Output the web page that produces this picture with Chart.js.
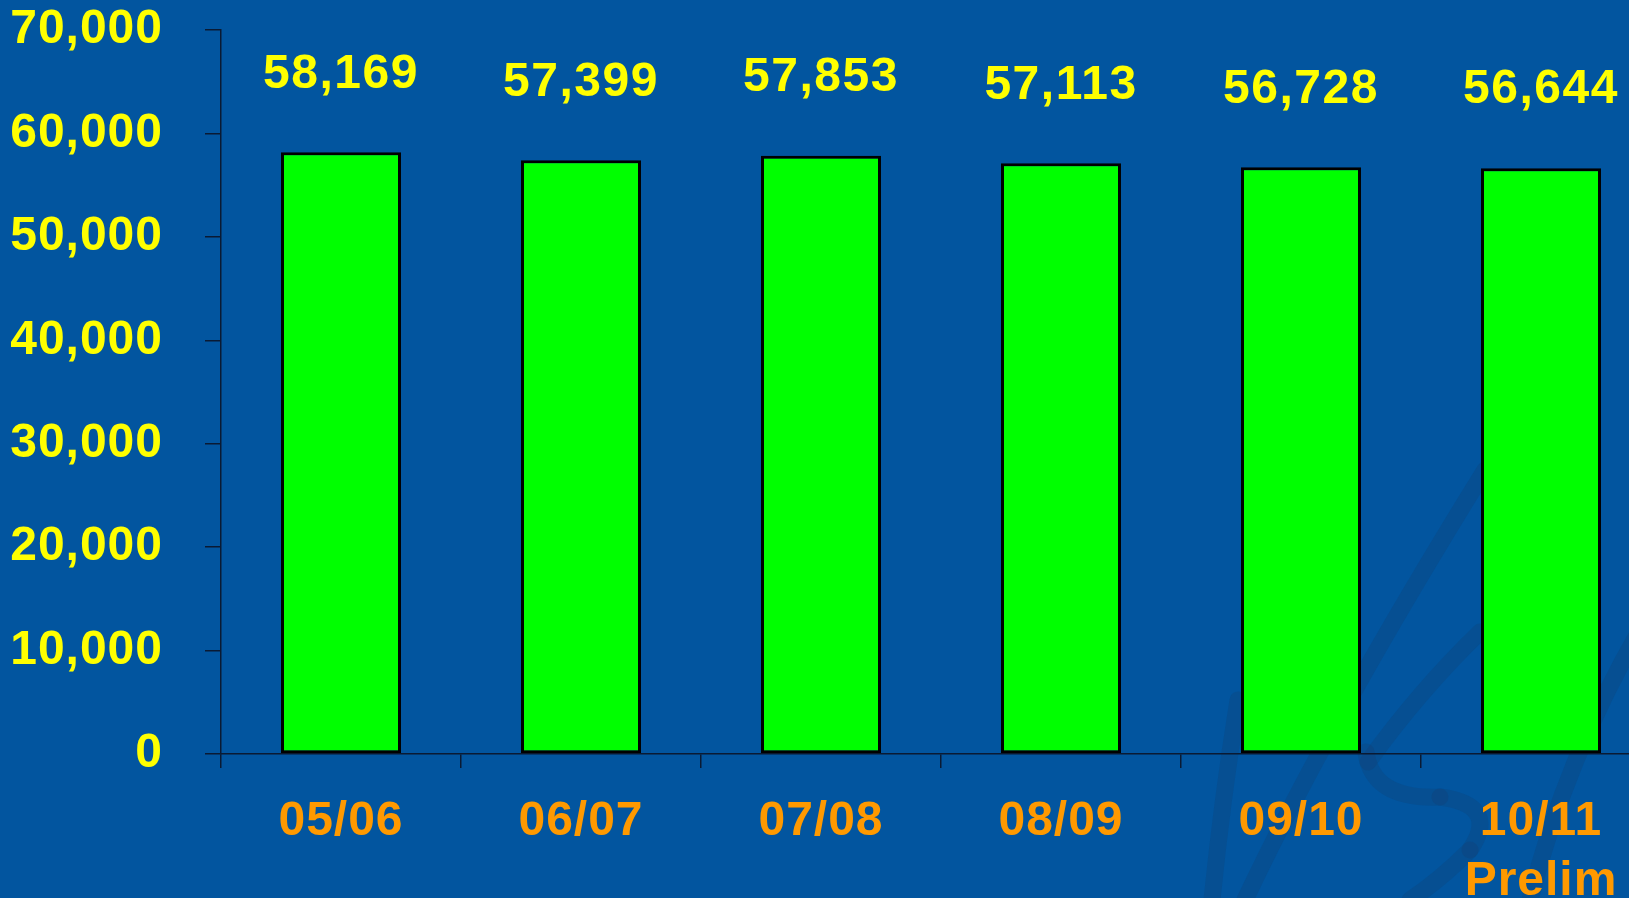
<!DOCTYPE html>
<html>
<head>
<meta charset="utf-8">
<script src="https://cdn.jsdelivr.net/npm/chart.js@4/dist/chart.umd.min.js"></script>
<style>
    html, body { margin: 0; padding: 0; background: #02559f; overflow: hidden; }
    #wrap { width: 1680px; height: 898px; position: relative; }
</style>
</head>
<body>
<div id="wrap"><canvas id="myChart"></canvas></div>
<script>
const categories = ["05/06", "06/07", "07/08", "08/09", "09/10", ["10/11", "Prelim"]];
const values = [58169, 57399, 57853, 57113, 56728, 56644];
const yTicks = [0, 10000, 20000, 30000, 40000, 50000, 60000, 70000];

const fontFamily = '"Liberation Sans", Arial, sans-serif';
const fmt = (v) => v.toLocaleString('en-US');

// a bit of extra letter spacing, the original font runs wider
const spacing = {
    id: 'spacing',
    beforeLayout(chart) { chart.ctx.letterSpacing = '1px'; },
    beforeDraw(chart) { chart.ctx.letterSpacing = '1px'; }
};

// faint scribble in the slide background, bottom right
const watermark = {
    id: 'watermark',
    beforeDraw(chart) {
        const ctx = chart.ctx;
        ctx.save();
        ctx.strokeStyle = 'rgba(25, 55, 95, 0.2)';
        ctx.lineWidth = 17;
        ctx.lineCap = 'round';
        ctx.lineJoin = 'round';
        const paths = [
            [[1238, 700], [1222, 800], [1212, 900]],
            [[1245, 900], [1330, 720], [1485, 470]],
            [[1368, 762], [1420, 690], [1480, 632]],
            [[1366, 752], [1372, 800], [1440, 797]],
            [[1440, 797], [1500, 805], [1470, 850]],
            [[1470, 850], [1440, 880], [1410, 900]],
            [[1530, 900], [1565, 760], [1640, 630]]
        ];
        paths.forEach(([a, c, b]) => {
            ctx.beginPath();
            ctx.moveTo(a[0], a[1]);
            ctx.quadraticCurveTo(c[0], c[1], b[0], b[1]);
            ctx.stroke();
        });
        ctx.restore();
    }
};

// draws the value above each bar
const valueLabels = {
    id: 'valueLabels',
    afterDatasetsDraw(chart) {
        const ctx = chart.ctx;
        const meta = chart.getDatasetMeta(0);
        ctx.save();
        ctx.letterSpacing = '1.5px';
        ctx.font = 'bold 48px ' + fontFamily;
        ctx.fillStyle = '#ffff00';
        ctx.textAlign = 'center';
        ctx.textBaseline = 'middle';
        meta.data.forEach((bar, i) => {
            ctx.fillText(fmt(values[i]), bar.x, bar.y - 78);
        });
        ctx.restore();
    }
};

document.addEventListener('DOMContentLoaded', () => {
    const ctx = document.getElementById('myChart').getContext('2d');
    new Chart(ctx, {
        type: 'bar',
        data: {
            labels: categories,
            datasets: [{
                data: [...values],
                backgroundColor: '#00ff00',
                borderColor: '#000000',
                borderWidth: 3,
                borderSkipped: false,
                barPercentage: 0.5,
                categoryPercentage: 1.0
            }]
        },
        options: {
            responsive: true,
            maintainAspectRatio: false,
            animation: false,
            events: [],
            scales: {
                y: {
                    min: 0,
                    max: 70000,
                    afterBuildTicks: (axis) => { axis.ticks = yTicks.map(v => ({ value: v })); },
                    afterFit: (axis) => {
                        axis.width = 221;
                        axis.paddingTop = 30;
                        axis.paddingBottom = 0;
                    },
                    grid: {
                        drawOnChartArea: false,
                        color: '#0a1a33',
                        tickLength: 16,
                        lineWidth: 1.5
                    },
                    border: { color: '#0a1a33', width: 1.5 },
                    ticks: {
                        padding: 42,
                        color: '#ffff00',
                        font: { family: fontFamily, size: 48, weight: 'bold' },
                        callback: (v) => fmt(v)
                    }
                },
                x: {
                    afterFit: (axis) => { axis.height = 144; },
                    grid: {
                        drawOnChartArea: false,
                        offset: true,
                        color: '#0a1a33',
                        tickLength: 14,
                        lineWidth: 1.5
                    },
                    border: { color: '#0a1a33', width: 1.5 },
                    ticks: {
                        padding: 24,
                        maxRotation: 0,
                        autoSkip: false,
                        color: '#ff9900',
                        font: { family: fontFamily, size: 48, weight: 'bold', lineHeight: 1.25 }
                    }
                }
            },
            plugins: {
                legend: { display: false },
                title: { display: false },
                tooltip: { enabled: false }
            },
            layout: {
                padding: { top: 0, left: 0, right: 19, bottom: 0 }
            }
        },
        plugins: [spacing, watermark, valueLabels]
    });
});
</script>
</body>
</html>
